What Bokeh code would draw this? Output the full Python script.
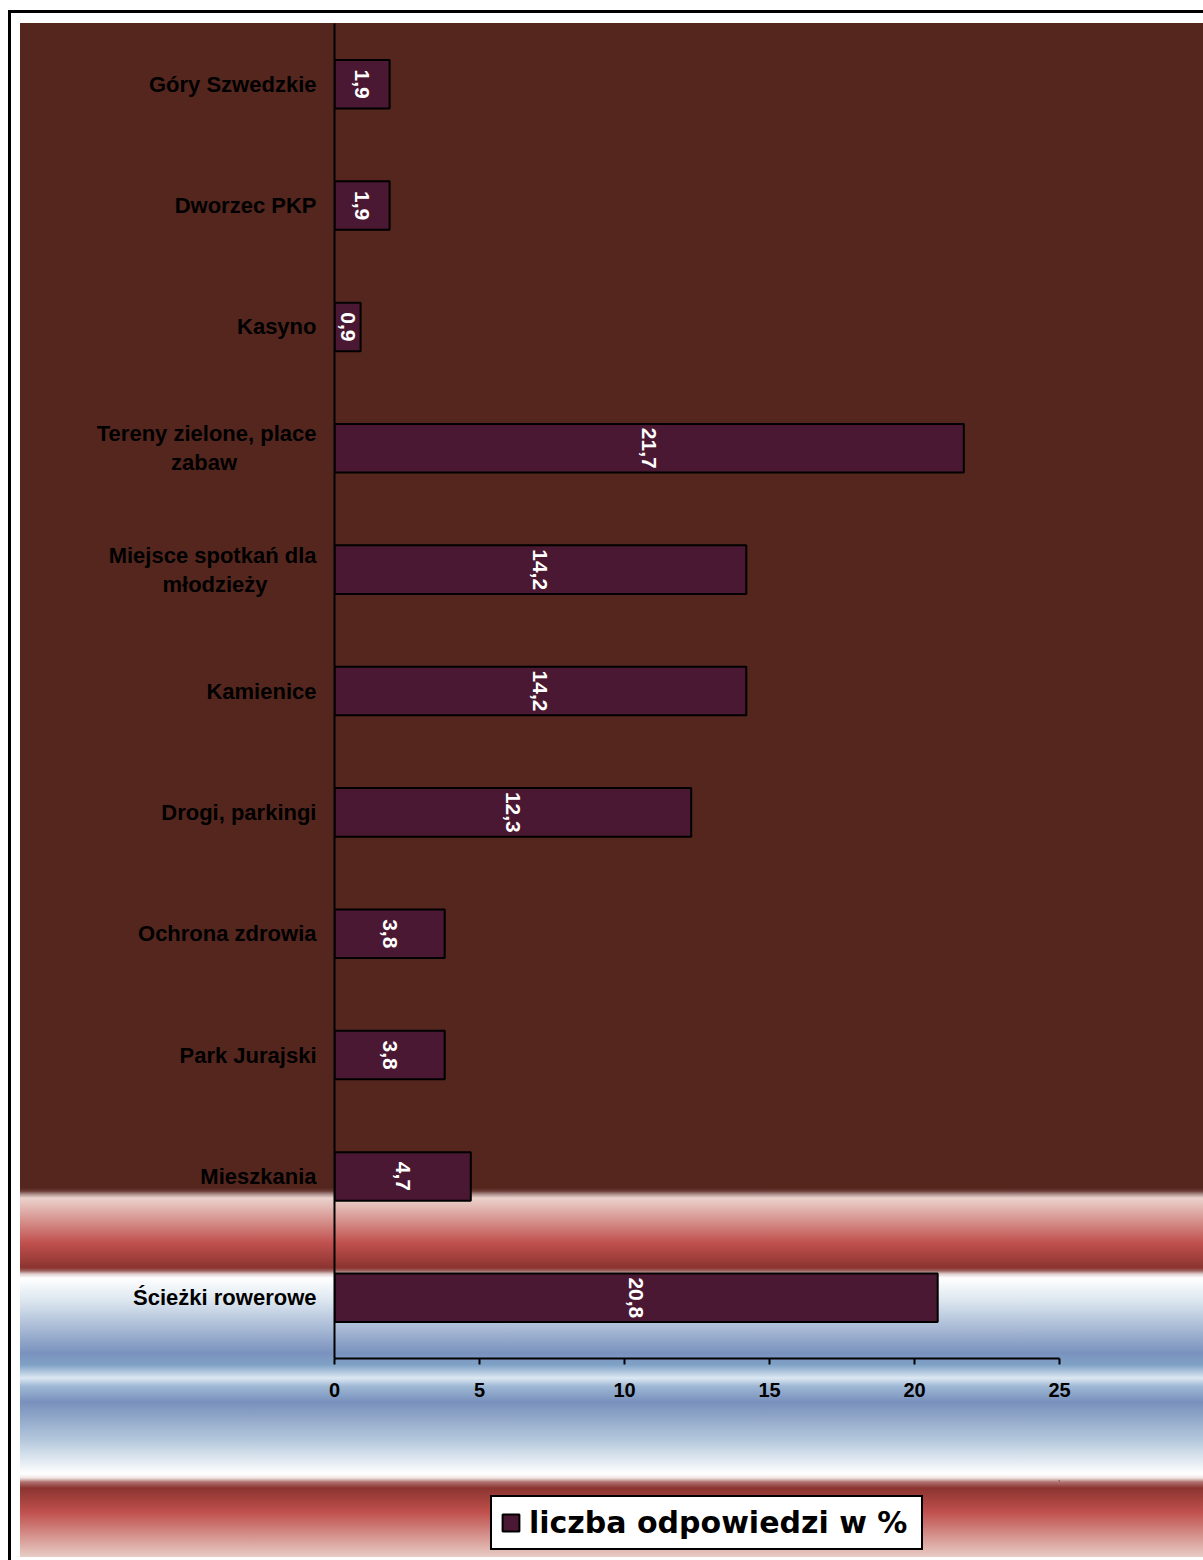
import math
from bokeh.plotting import figure
from bokeh.layouts import column
from bokeh.models import ColumnDataSource, FactorRange, Range1d, FixedTicker, Legend, LegendItem
from bokeh.core.properties import value
from bokeh.embed import file_html
from bokeh.resources import INLINE

# ---- data (top to bottom as in the chart) ----
categories = [
    "Góry Szwedzkie",
    "Dworzec PKP",
    "Kasyno",
    "Tereny zielone, place\nzabaw",
    "Miejsce spotkań dla\nmłodzieży",
    "Kamienice",
    "Drogi, parkingi",
    "Ochrona zdrowia",
    "Park Jurajski",
    "Mieszkania",
    "Ścieżki rowerowe",
]
values = [1.9, 1.9, 0.9, 21.7, 14.2, 14.2, 12.3, 3.8, 3.8, 4.7, 20.8]
x_ticks = [0, 5, 10, 15, 20, 25]
series_name = "liczba odpowiedzi w %"

# centre the second line of two-line labels (axis labels are right aligned)
NB = "\u00a0"
second_line_pad = {"Tereny zielone, place\nzabaw": 13, "Miejsce spotkań dla\nmłodzieży": 8}
factors = [c + NB * second_line_pad.get(c, 0) for c in categories]

labels = [f"{v:.1f}".replace(".", ",") for v in values]
mids = [v / 2 for v in values]
src = ColumnDataSource(dict(cat=factors, val=values, lab=labels, mid=mids))

BAR = "#4a1832"
FONT = "Liberation Sans"

p = figure(
    width=1203, height=1480,
    y_range=FactorRange(factors=list(reversed(factors)), range_padding=0),
    x_range=Range1d(0, 25),
    output_backend="svg", toolbar_location=None,
    min_border_left=334, min_border_right=144,
    min_border_top=23, min_border_bottom=122,
)
p.border_fill_color = None
p.background_fill_color = None
p.outline_line_color = None
p.grid.visible = False

bars = p.hbar(y="cat", left=0, right="val", height=0.4, source=src,
              fill_color=BAR, line_color="black", line_width=2)

p.text(x="mid", y="cat", text="lab", source=src, angle=-math.pi / 2,
       text_align="center", text_baseline="middle", text_color="white",
       text_font=value(FONT), text_font_style="bold", text_font_size="21px")

# x axis
xa = p.xaxis[0]
xa.ticker = FixedTicker(ticks=x_ticks)
xa.axis_line_color = "black"
xa.axis_line_width = 2
xa.major_tick_line_color = "black"
xa.major_tick_line_width = 2
xa.major_tick_out = 6
xa.major_tick_in = 0
xa.minor_tick_line_color = None
xa.major_label_text_font = FONT
xa.major_label_text_font_style = "bold"
xa.major_label_text_font_size = "20px"
xa.major_label_text_color = "black"
xa.major_label_standoff = 18

# y axis
ya = p.yaxis[0]
ya.axis_line_color = "black"
ya.axis_line_width = 2
ya.major_tick_line_color = None
ya.minor_tick_line_color = None
ya.major_label_text_font = FONT
ya.major_label_text_font_style = "bold"
ya.major_label_text_font_size = "22px"
ya.major_label_text_color = "black"
ya.major_label_standoff = 12
ya.major_label_text_line_height = 1.16

# legend strip below the chart (its frame is aligned with the main frame)
p2 = figure(width=1203, height=80, x_range=Range1d(0, 1), y_range=Range1d(0, 1),
            x_axis_type=None, y_axis_type=None, output_backend="svg",
            toolbar_location=None, min_border=0)
p2.border_fill_color = None
p2.background_fill_color = None
p2.outline_line_color = None
# legend proxy: same style as the bars, placed outside the strip's view
proxy = p2.hbar(y=[100], left=[100], right=[101], height=0.4,
                fill_color=BAR, line_color="black", line_width=2)

legend = Legend(items=[LegendItem(label=series_name, renderers=[proxy])],
                location=(156, 10), orientation="horizontal")
legend.label_text_font = "DejaVu Sans"
legend.label_text_font_style = "bold"
legend.label_text_font_size = "30px"
legend.label_text_color = "black"
legend.label_width = 384
legend.glyph_width = 21
legend.glyph_height = 21
legend.label_standoff = 8
legend.padding = 8
legend.margin = 0
legend.border_line_color = "black"
legend.border_line_alpha = 1.0
legend.border_line_width = 2
legend.background_fill_color = "white"
legend.background_fill_alpha = 1.0
p2.add_layout(legend)

stops = [
    (1188, "#55261e"), (1191, "#6b3b35"), (1194, "#a88a86"), (1198, "#ecd3cd"),
    (1243, "#c0504d"), (1268, "#8b3430"), (1271, "#a06a66"), (1274, "#e0cfcf"),
    (1278, "#ffffff"), (1300, "#dde7f0"), (1353, "#7a92be"), (1365, "#80a2c6"),
    (1378, "#dce8f3"), (1386, "#a0b9d5"), (1402, "#7890bc"), (1440, "#b4c8dc"),
    (1474, "#ffffff"), (1478, "#f0e4e2"), (1482, "#b07370"), (1488, "#8b3430"),
    (1512, "#c0504d"), (1557, "#e8cdc6"),
]
grad = ", ".join(f"{c} {y - 23}px" for y, c in stops)
page = column(p, p2, spacing=0)
page.styles = {
    "background": (
        "linear-gradient(#000,#000) 8px 10px / calc(100% - 8px) 3px no-repeat, "
        "linear-gradient(#000,#000) 8px 10px / 3px calc(100% - 10px) no-repeat, "
        f"linear-gradient(to bottom, #55261e 0px, {grad}) 20px 23px / calc(100% - 20px) calc(100% - 26px) no-repeat, "
        "#ffffff"
    )
}

open("out.html", "w").write(file_html(page, INLINE))
